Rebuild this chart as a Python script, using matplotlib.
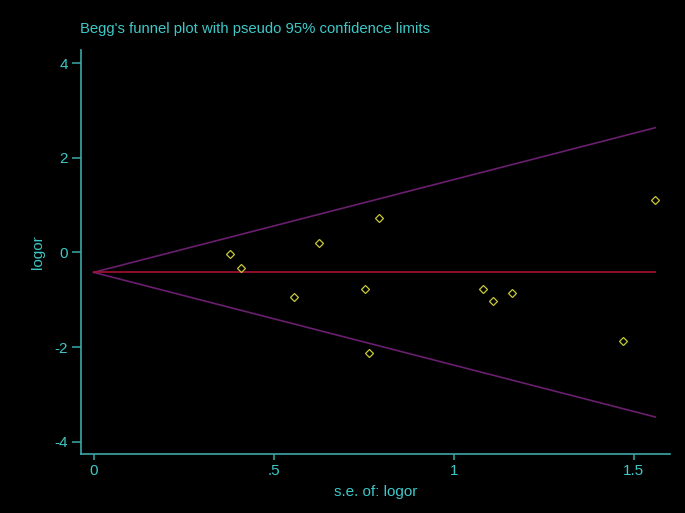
import numpy as np
import matplotlib.pyplot as plt

# study standard errors and log odds ratios
se = [0.380, 0.410, 0.558, 0.626, 0.754, 0.766, 0.794, 1.082, 1.108, 1.162, 1.470, 1.560]
logor = [-0.04, -0.32, -0.95, 0.21, -0.78, -2.12, 0.72, -0.78, -1.03, -0.86, -1.88, 1.12]
pooled = -0.42
xticks = [0, 0.5, 1, 1.5]
xticklabels = ["0", ".5", "1", "1.5"]
yticks = [-4, -2, 0, 2, 4]

TXT = '#3ec8c8'
AX = '#3aa9a9'

plt.rcParams['font.family'] = ['Liberation Sans', 'DejaVu Sans']
plt.rcParams['axes.unicode_minus'] = False

fig = plt.figure(figsize=(6.85, 5.13), dpi=100, facecolor='black')
ax = fig.add_axes([0.1182, 0.115, 0.860, 0.7875], facecolor='black')

se_max = max(se)
xs = np.array([0, se_max])
ax.plot(xs, pooled + 1.96 * xs, color='#6a1f6e', lw=1.2)
ax.plot(xs, pooled - 1.96 * xs, color='#6a1f6e', lw=1.2)
ax.plot(xs, [pooled, pooled], color='#a8102e', lw=1.2)
ax.plot(se, logor, linestyle='none', marker='D', markersize=3.6,
        markerfacecolor='none', markeredgecolor='#c8c83c', markeredgewidth=0.9)

ax.set_xlim(-0.035, 1.601)
ax.set_ylim(-4.26, 4.28)
ax.set_xticks(xticks)
ax.set_xticklabels(xticklabels)
ax.set_yticks(yticks)

for s in ['top', 'right']:
    ax.spines[s].set_visible(False)
for s in ['left', 'bottom']:
    ax.spines[s].set_color(AX)
    ax.spines[s].set_linewidth(1.2)
ax.tick_params(axis='y', colors=AX, labelcolor=TXT, length=6.5, width=1.1,
               labelsize=11, pad=3)
ax.tick_params(axis='x', colors=AX, labelcolor=TXT, length=4.5, width=1.1,
               labelsize=11, pad=3)

ax.set_xlabel("s.e. of: logor", color=TXT, fontsize=11, labelpad=5)
ax.set_ylabel("logor", color=TXT, fontsize=11, labelpad=7)
fig.text(80 / 685, 1 - 29 / 513, "Begg's funnel plot with pseudo 95% confidence limits",
         color=TXT, fontsize=10.7, ha='left', va='center')

fig.savefig('out.png', dpi=100, facecolor='black')
